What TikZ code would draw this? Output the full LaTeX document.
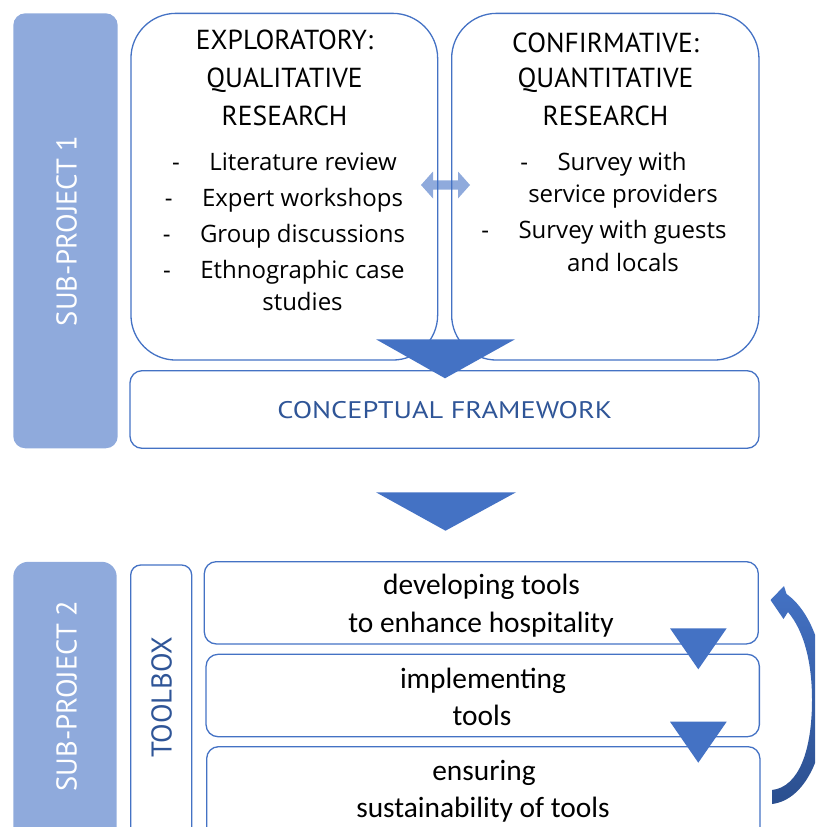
\documentclass[tikz,border=0pt]{standalone}
\usepackage{fontspec}
\setmainfont{Open Sans}
\newfontfamily\dinfont{PT Sans}
\newfontfamily\cffont[FakeStretch=1.18]{PT Sans}
\newfontfamily\calfont{Carlito}
\definecolor{bblue}{HTML}{4472C4}
\definecolor{lblue}{HTML}{8FAADC}
\definecolor{tblue}{HTML}{2F5597}
\definecolor{dblue}{HTML}{2B4F8F}
\begin{document}
\begin{tikzpicture}[x=1pt,y=-1pt,
  bx/.style={draw=bblue, line width=1.3pt, inner sep=0pt},
  bar/.style={fill=lblue, inner sep=0pt},
  hd/.style={font=\dinfont\fontsize{27.5}{30}\selectfont, anchor=base, inner sep=0pt},
  lst/.style={font=\fontsize{24}{28}\selectfont, anchor=base, inner sep=0pt},
  cal/.style={font=\calfont\fontsize{29.4}{32}\selectfont, anchor=base, inner sep=0pt},
  vlab/.style={font=\dinfont\fontsize{28.6}{32}\selectfont, anchor=base, inner sep=0pt, rotate=90},
  tri/.style={fill=bblue}]
\useasboundingbox (0,0) rectangle (815,827);
\clip (0,0) rectangle (815,827);

% side bars
\node[bar, rounded corners=12pt, minimum width=104.4pt, minimum height=435pt] (sp1) at (65.5,230.8) {};
\node[bar, rounded corners=15pt, minimum width=103.4pt, minimum height=338pt] (sp2) at (65,730.8) {};

% double arrow between research boxes
\fill[lblue] (421,185) -- (433,171.5) -- (433,180.3) -- (458,180.3) -- (458,171.5) -- (470,185)
  -- (458,198.5) -- (458,189.7) -- (433,189.7) -- (433,198.5) -- cycle;

% boxes
\node[bx, rounded corners=45pt, minimum width=306.7pt, minimum height=346.7pt] (exp) at (284.3,186.7) {};
\node[bx, rounded corners=45pt, minimum width=307.3pt, minimum height=346.7pt] (conf) at (605.3,186.7) {};
\node[bx, rounded corners=12pt, minimum width=629pt, minimum height=77.6pt] (cf) at (444.5,409.5) {};
\node[bx, rounded corners=10pt, minimum width=61pt, minimum height=335pt] (tb) at (161.2,732.5) {};
\node[bx, rounded corners=12pt, minimum width=554pt, minimum height=82.3pt] (dev) at (481.3,602.8) {};
\node[bx, rounded corners=12pt, minimum width=553.3pt, minimum height=82.4pt] (impl) at (482.7,695.5) {};
\node[bx, rounded corners=12pt, minimum width=553.3pt, minimum height=93.3pt] (ens) at (483.3,793.3) {};

% triangles
\fill[tri] (376,339.3) -- (515,339.3) -- (445,378.3) -- cycle;
\fill[tri] (376,492.3) -- (516,492.3) -- (445.5,530.7) -- cycle;
\fill[tri] (670,628.3) -- (726.7,628.3) -- (698.3,669.3) -- cycle;
\fill[tri] (670,721.7) -- (726.7,721.7) -- (698.3,762.7) -- cycle;

% curved feedback arrow
\shade[top color=bblue, bottom color=dblue]
  (770.5,600) -- (784,586) -- (786.5,594)
  .. controls (812,612) and (826,655) .. (826,700)
  .. controls (826,755) and (805,800) .. (772,804)
  -- (772,790)
  .. controls (799,787) and (812,750) .. (812,700)
  .. controls (812,662) and (804,631) .. (788,612)
  -- (783.5,619) -- cycle;

% vertical labels
\node[vlab, text=white] (t1) at (76.7,230.8) {SUB-PROJECT 1};
\node[vlab, text=white] (t2) at (76.7,696) {SUB-PROJECT 2};
\node[vlab, text=tblue] (t3) at (171.7,697.5) {TOOLBOX};

% headings
\node[hd] (h1) at (284.5,49.3) {EXPLORATORY:};
\node[hd] (h2) at (284.5,87.3) {QUALITATIVE};
\node[hd] (h3) at (284.5,125) {RESEARCH};
\node[hd] (h4) at (605.5,52.7) {CONFIRMATIVE:};
\node[hd] (h5) at (605.5,87.3) {QUANTITATIVE};
\node[hd] (h6) at (605.5,125) {RESEARCH};

% left list
\node[lst] (l1) at (303,170.7) {Literature review};
\node[lst] (l2) at (302.5,206.7) {Expert workshops};
\node[lst] (l3) at (302.5,242.7) {Group discussions};
\node[lst] (l4) at (302.5,278.3) {Ethnographic case};
\node[lst] (l5) at (302.5,310) {studies};
\node[lst] (d1) at ([xshift=-33pt]l1.base west) {-};
\node[lst] (d2) at ([xshift=-33pt]l2.base west) {-};
\node[lst] (d3) at ([xshift=-33pt]l3.base west) {-};
\node[lst] (d4) at ([xshift=-33pt]l4.base west) {-};

% right list
\node[lst] (r1) at (622,170.7) {Survey with};
\node[lst] (r2) at (623,202.7) {service providers};
\node[lst] (r3) at (622.5,238.3) {Survey with guests};
\node[lst] (r4) at (623,271.7) {and locals};
\node[lst] (d5) at ([xshift=-33pt]r1.base west) {-};
\node[lst] (d6) at ([xshift=-33pt]r3.base west) {-};

% conceptual framework
\node[hd, text=tblue, font=\cffont\fontsize{24}{28}\selectfont] (cft) at (444.7,418.5) {CONCEPTUAL FRAMEWORK};

% toolbox steps
\node[cal] (s1) at (481.5,594) {developing tools};
\node[cal] (s2) at (481,632.7) {to enhance hospitality};
\node[cal] (s3) at (483,688.3) {implementing};
\node[cal] (s4) at (482,725) {tools};
\node[cal] (s5) at (484,780) {ensuring};
\node[cal] (s6) at (483,817.3) {sustainability of tools};
\end{tikzpicture}
\end{document}
